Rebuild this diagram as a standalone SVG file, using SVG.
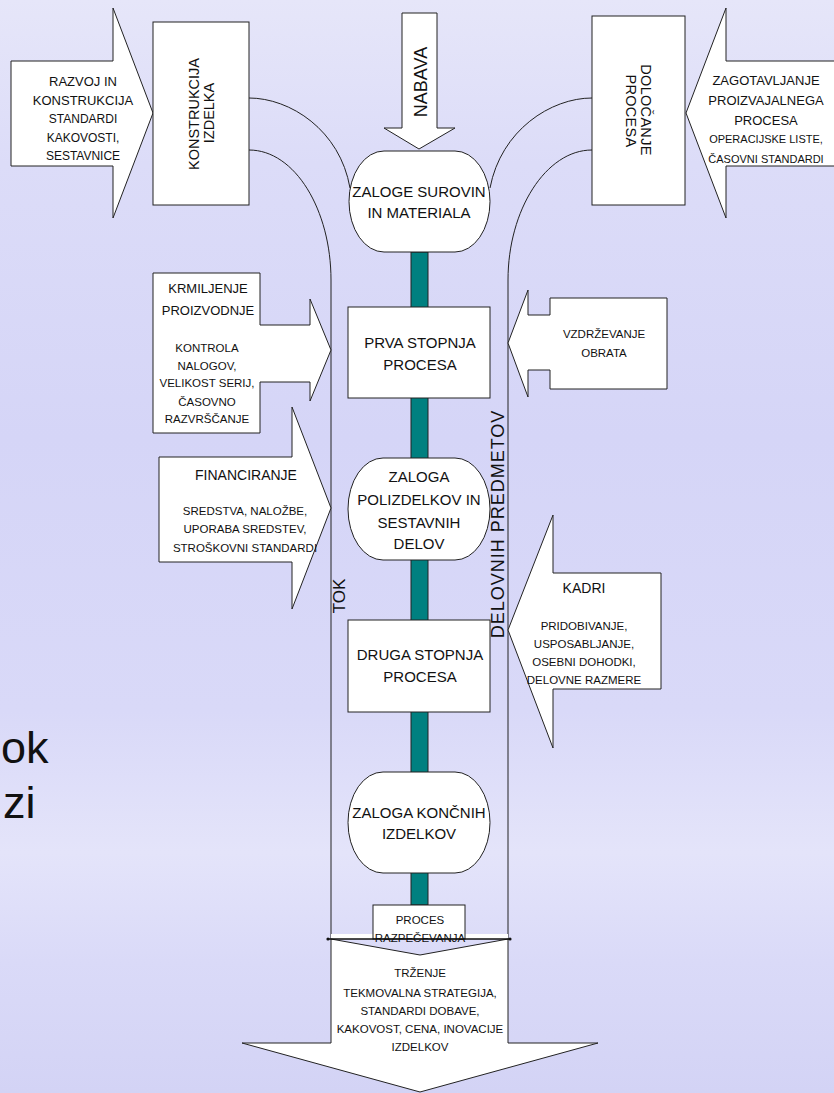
<svg xmlns="http://www.w3.org/2000/svg" width="834" height="1093" viewBox="0 0 834 1093">
<defs>
<linearGradient id="bg" x1="0" y1="0" x2="0" y2="1">
<stop offset="0" stop-color="#e6e6f9"/>
<stop offset="0.15" stop-color="#dcdcf8"/>
<stop offset="0.4" stop-color="#d5d5f7"/>
<stop offset="0.65" stop-color="#d9d9f8"/>
<stop offset="0.78" stop-color="#e4e4fa"/>
<stop offset="0.88" stop-color="#dadaf8"/>
<stop offset="1" stop-color="#d3d3f5"/>
</linearGradient>
<style>
text{font-family:"Liberation Sans",Arial,sans-serif;fill:#111;text-anchor:middle}
.s{fill:#fff;stroke:#222;stroke-width:1}
.ln{fill:none;stroke:#222;stroke-width:1}
.f15{font-size:15px}
.f13{font-size:13px}
.f14{font-size:14px}
.f12{font-size:12px}
.f11{font-size:11.5px}
.f11s{font-size:11px}
.v{font-size:14.5px}
.big{font-size:45px;text-anchor:start;fill:#111}
</style>
</defs>
<rect x="0" y="0" width="834" height="1093" fill="url(#bg)"/>

<text class="big" x="1" y="763">ok</text>
<text class="big" x="3" y="818">zi</text>

<g id="connectors">
<path class="ln" d="M249,98 C290,98 340,130 350,188"/>
<path class="ln" d="M592,98 C551,98 501,130 490,188"/>
<path class="ln" d="M249,150 C295,150 331,210 331,280 V939"/>
<path class="ln" d="M592,150 C546,150 508,210 508,280 V939"/>
<rect x="411" y="252" width="17" height="653" fill="#008080" stroke="#222" stroke-width="1"/>
</g>

<g id="razvoj">
<polygon class="s" points="11,61 113,61 113,8 153,113 113,218 113,166 11,166"/>
<text class="f13" x="83" y="86">RAZVOJ IN</text>
<text class="f13" x="83" y="105">KONSTRUKCIJA</text>
<text class="f12" x="83" y="123">STANDARDI</text>
<text class="f12" x="83" y="142">KAKOVOSTI,</text>
<text class="f12" x="83" y="160">SESTAVNICE</text>
</g>

<g id="konstrukcija">
<rect class="s" x="153" y="22" width="96" height="183"/>
<text class="v" transform="translate(199,114) rotate(-90)">KONSTRUKCIJA</text>
<text class="v" transform="translate(214,113) rotate(-90)">IZDELKA</text>
</g>

<g id="nabava">
<polygon class="s" points="402,13 437,13 437,128 455,128 419,149 384,128 402,128"/>
<text transform="translate(427,82) rotate(-90)" style="font-size:18px">NABAVA</text>
</g>

<g id="dolocanje">
<rect class="s" x="592" y="16" width="93" height="189"/>
<text class="v" style="letter-spacing:0.3px" transform="translate(641,110) rotate(90)">DOLOČANJE</text>
<text class="v" style="letter-spacing:0.3px" transform="translate(626,111) rotate(90)">PROCESA</text>
</g>

<g id="zagotavljanje">
<polygon class="s" points="840,61 726,61 726,8 686,113 726,218 726,166 840,166"/>
<text class="f13" x="766" y="85">ZAGOTAVLJANJE</text>
<text class="f13" x="766" y="105">PROIZVAJALNEGA</text>
<text class="f13" x="766" y="125">PROCESA</text>
<text class="f11s" x="766" y="143">OPERACIJSKE LISTE,</text>
<text class="f11s" x="766" y="163">ČASOVNI STANDARDI</text>
</g>

<g id="zaloge-surovin">
<rect class="s" x="349" y="151" width="141" height="101" rx="35" ry="50.5"/>
<text class="f15" x="419" y="197">ZALOGE SUROVIN</text>
<text class="f15" x="419" y="218">IN MATERIALA</text>
</g>

<g id="krmiljenje">
<path class="s" d="M153,273 H260 V325 H310 V299 L331,350 L310,401 V382 H260 V433 H153 Z"/>
<text class="f13" x="208" y="293">KRMILJENJE</text>
<text class="f13" x="208" y="315">PROIZVODNJE</text>
<text class="f11" x="207" y="352">KONTROLA</text>
<text class="f11" x="207" y="370">NALOGOV,</text>
<text class="f11" x="207" y="387">VELIKOST SERIJ,</text>
<text class="f11" x="207" y="406">ČASOVNO</text>
<text class="f11" x="207" y="423">RAZVRŠČANJE</text>
</g>

<g id="prva-stopnja">
<rect class="s" x="348" y="307" width="142" height="91"/>
<text class="f15" x="420" y="348">PRVA STOPNJA</text>
<text class="f15" x="420" y="370">PROCESA</text>
</g>

<g id="vzdrzevanje">
<path class="s" d="M667,298 H550 V315 H528 V290 L508,343 L528,397 V370 H550 V389 H667 Z"/>
<text class="f11" x="604" y="338">VZDRŽEVANJE</text>
<text class="f11" x="604" y="357">OBRATA</text>
</g>

<g id="financiranje">
<polygon class="s" points="159,457 292,457 292,407 331,508 292,609 292,562 159,562"/>
<text class="f14" x="246" y="480">FINANCIRANJE</text>
<text class="f11" x="245" y="515">SREDSTVA, NALOŽBE,</text>
<text class="f11" x="245" y="533">UPORABA SREDSTEV,</text>
<text class="f11" x="245" y="552">STROŠKOVNI STANDARDI</text>
</g>

<g id="zaloga-polizdelkov">
<rect class="s" x="348" y="458" width="142" height="102" rx="35" ry="51"/>
<text class="f15" x="419" y="482">ZALOGA</text>
<text class="f15" x="419" y="505">POLIZDELKOV IN</text>
<text class="f15" x="419" y="528">SESTAVNIH</text>
<text class="f15" x="419" y="549">DELOV</text>
</g>

<g id="labels">
<text transform="translate(345,596) rotate(-90)" style="font-size:17px">TOK</text>
<text transform="translate(504,524) rotate(-90)" style="font-size:18px;letter-spacing:1px">DELOVNIH PREDMETOV</text>
</g>

<g id="kadri">
<polygon class="s" points="661,573 553,573 553,515 508,630 553,748 553,689 661,689"/>
<text class="f14" x="584" y="593">KADRI</text>
<text class="f11" x="584" y="630">PRIDOBIVANJE,</text>
<text class="f11" x="584" y="648">USPOSABLJANJE,</text>
<text class="f11" x="584" y="666">OSEBNI DOHODKI,</text>
<text class="f11" x="584" y="684">DELOVNE RAZMERE</text>
</g>

<g id="druga-stopnja">
<rect class="s" x="348" y="620" width="142" height="92"/>
<text class="f15" x="420" y="660">DRUGA STOPNJA</text>
<text class="f15" x="420" y="682">PROCESA</text>
</g>

<g id="zaloga-koncnih">
<rect class="s" x="348" y="772" width="142" height="101" rx="35" ry="50.5"/>
<text class="f15" x="419" y="818">ZALOGA KONČNIH</text>
<text class="f15" x="419" y="839">IZDELKOV</text>
</g>

<g id="proces-razpecevanja">
<rect x="331" y="934" width="177" height="5" fill="#fff"/>
<rect class="s" x="373" y="905" width="92" height="34"/>
</g>

<g id="trzenje">
<polygon class="s" points="331,939 420,955 508,939 508,1043 598,1043 420,1092 242,1043 331,1043"/>
<line x1="328" y1="939" x2="510" y2="939" stroke="#111" stroke-width="1.5"/>
<circle cx="328" cy="939" r="1.6" fill="#111"/>
<circle cx="510" cy="939" r="1.6" fill="#111"/>
<text class="f11" x="420" y="924">PROCES</text>
<text class="f11" x="420" y="942">RAZPEČEVANJA</text>
<text class="f11" x="420" y="977">TRŽENJE</text>
<text class="f11" x="420" y="997">TEKMOVALNA STRATEGIJA,</text>
<text class="f11" x="420" y="1015">STANDARDI DOBAVE,</text>
<text class="f11" x="420" y="1033">KAKOVOST, CENA, INOVACIJE</text>
<text class="f11" x="420" y="1051">IZDELKOV</text>
</g>
</svg>
